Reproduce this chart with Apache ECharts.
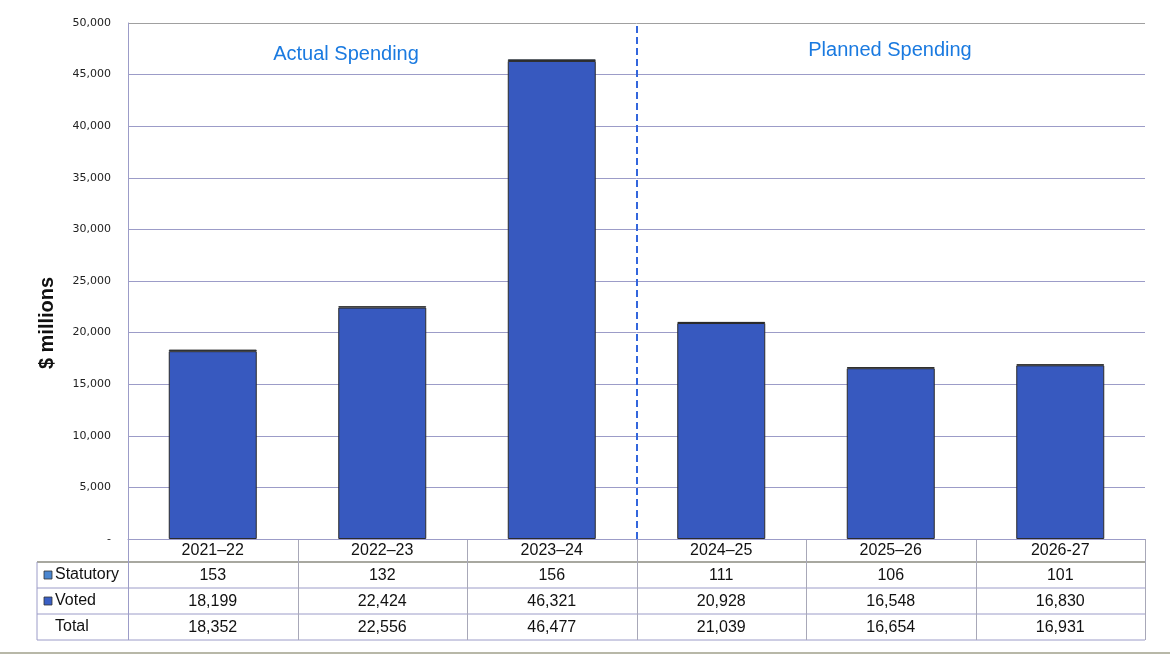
<!DOCTYPE html>
<html>
<head>
<meta charset="utf-8">
<script src="https://cdn.jsdelivr.net/npm/echarts@6/dist/echarts.min.js"></script>
<style>
  html, body { margin: 0; padding: 0; background: #fff; }
  #chart { width: 1170px; height: 657px; }
</style>
</head>
<body>
<div id="chart"></div>
<script>
const years = ['2021–22', '2022–23', '2023–24', '2024–25', '2025–26', '2026-27']
const statutory = [153, 132, 156, 111, 106, 101]
const voted = [18199, 22424, 46321, 20928, 16548, 16830]
const total = [18352, 22556, 46477, 21039, 16654, 16931]
const rowNames = ['Statutory', 'Voted', 'Total']

// layout
const W = 1170, H = 657
const gLeft = 128, gRight = 1145, gTop = 23, gBottom = 539
const tableLeft = 37
const rowLines = [539, 562, 588, 614, 640]
const colW = (gRight - gLeft) / years.length

const fmt = v => v.toLocaleString('en-US')
const cellFont = { fontFamily: 'Arial, Liberation Sans', fontSize: 16, color: '#111' }
const lineColor = '#9c9cc8'

const chart = echarts.init(document.getElementById('chart'))

const g = []
// table frame
g.push({ type: 'line', shape: { x1: tableLeft, y1: rowLines[1], x2: gRight, y2: rowLines[1] }, style: { stroke: '#a8a8a0', lineWidth: 2 } })
for (let i = 2; i < rowLines.length; i++) {
  g.push({ type: 'line', shape: { x1: tableLeft, y1: rowLines[i], x2: gRight, y2: rowLines[i] }, style: { stroke: lineColor, lineWidth: 1 } })
}
g.push({ type: 'line', shape: { x1: tableLeft, y1: rowLines[1], x2: tableLeft, y2: rowLines[4] }, style: { stroke: lineColor, lineWidth: 1 } })
for (let i = 0; i <= years.length; i++) {
  const x = Math.round(gLeft + i * colW) + 0.5
  g.push({ type: 'line', shape: { x1: x, y1: rowLines[0], x2: x, y2: rowLines[4] }, style: { stroke: i === 0 ? lineColor : '#a8a8b8', lineWidth: 1 } })
}
// row labels
const swatch = ['#4a86d0', '#3a5fc4']
rowNames.forEach((n, i) => {
  const cy = (rowLines[i + 1] + rowLines[i + 2]) / 2
  if (i < 2) {
    g.push({ type: 'rect', shape: { x: 44, y: cy - 4, width: 8, height: 8 }, style: { fill: swatch[i], stroke: '#333', lineWidth: 0.8 } })
  }
  g.push({ type: 'text', x: 55, y: cy, style: { text: n, font: '16px Arial', fill: '#111', textVerticalAlign: 'middle', textAlign: 'left' } })
})
// bottom rule
g.push({ type: 'line', shape: { x1: 0, y1: 653, x2: W, y2: 653 }, style: { stroke: '#b8b8a8', lineWidth: 2 } })
// titles
g.push({ type: 'text', x: 346, y: 54, style: { text: 'Actual Spending', font: '20px Arial', fill: '#1a7ae0', textAlign: 'center', textVerticalAlign: 'middle' } })
g.push({ type: 'text', x: 890, y: 50, style: { text: 'Planned Spending', font: '20px Arial', fill: '#1a7ae0', textAlign: 'center', textVerticalAlign: 'middle' } })
g.push({ type: 'text', x: 47, y: 323, rotation: Math.PI / 2, style: { text: '$ millions', font: 'bold 20px Arial', fill: '#111', textAlign: 'center', textVerticalAlign: 'middle' } })

const rowAxis = (vals, offset) => ({
  type: 'category', data: vals.map(fmt), position: 'bottom', offset: offset,
  axisLine: { show: false }, axisTick: { show: false },
  axisLabel: Object.assign({ margin: 4, interval: 0 }, cellFont)
})

// split lines: purple inside, grey on top edge
const splitColors = Array(10).fill(lineColor).concat(['#a0a0a0'])

chart.setOption({
  animation: false,
  grid: { left: gLeft, right: W - gRight, top: gTop, bottom: H - gBottom },
  xAxis: [
    {
      type: 'category', data: years,
      axisLine: { lineStyle: { color: lineColor } }, axisTick: { show: false },
      axisLabel: Object.assign({ margin: 4, interval: 0 }, cellFont)
    },
    rowAxis(statutory, 25),
    rowAxis(voted, 51),
    rowAxis(total, 77),
    { type: 'value', min: 0, max: years.length, show: false }
  ],
  yAxis: {
    type: 'value', min: 0, max: 50000, interval: 5000,
    axisLine: { show: true, lineStyle: { color: lineColor } },
    axisTick: { show: false },
    splitLine: { lineStyle: { color: splitColors, width: 1 } },
    axisLabel: {
      margin: 17, fontFamily: 'DejaVu Sans', fontSize: 11, color: '#222',
      formatter: v => v === 0 ? '-' : fmt(v)
    }
  },
  graphic: g,
  series: [
    {
      name: 'Voted', type: 'bar', stack: 's', data: voted, barWidth: 88,
      itemStyle: { color: '#3759bf', borderColor: '#2b2b2b', borderWidth: 1 }
    },
    {
      name: 'Statutory', type: 'bar', stack: 's', data: statutory, barWidth: 88,
      itemStyle: { color: '#4a86d0', borderColor: '#2b2b2b', borderWidth: 1 }
    },
    {
      name: 'divider', type: 'scatter', xAxisIndex: 4, data: [], silent: true,
      markLine: {
        symbol: 'none', silent: true, label: { show: false },
        lineStyle: { color: '#3366dd', width: 2, type: [7, 4] },
        data: [{ xAxis: 3 }]
      }
    }
  ]
})
</script>
</body>
</html>
